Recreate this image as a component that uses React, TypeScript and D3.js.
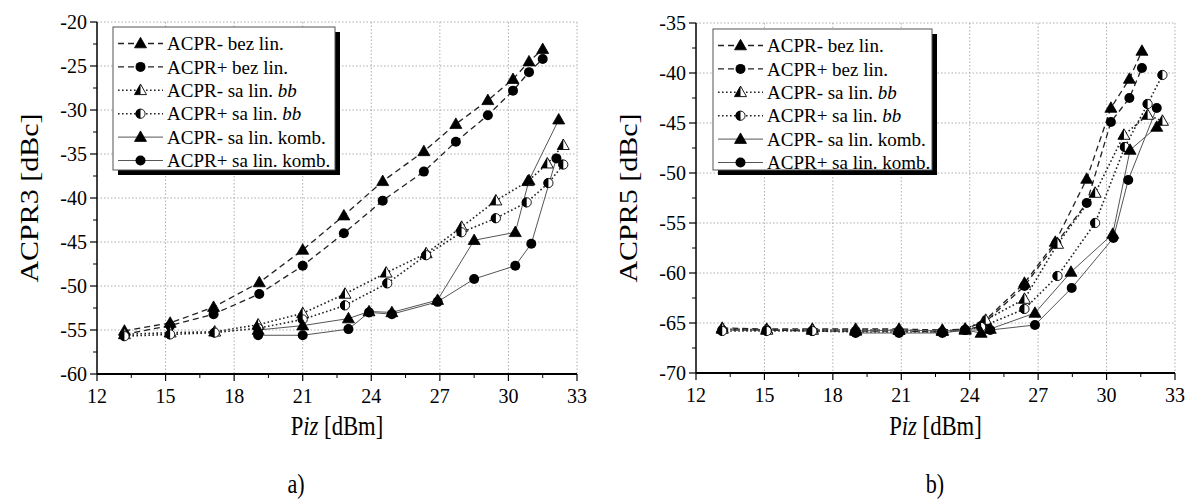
import React from "react";
import * as d3 from "d3";

type Pt = [number, number];

// ---------- Data: plot a) ACPR3 ----------
const a3MinusBez: Pt[] = [[13.2,-55.1],[15.2,-54.2],[17.1,-52.4],[19.1,-49.6],[21.0,-45.9],[22.8,-42.0],[24.5,-38.1],[26.3,-34.7],[27.7,-31.6],[29.1,-28.9],[30.2,-26.5],[30.9,-24.5],[31.5,-23.1]];
const a3PlusBez: Pt[] = [[13.2,-55.5],[15.2,-54.5],[17.1,-53.2],[19.1,-50.9],[21.0,-47.7],[22.8,-44.0],[24.5,-40.3],[26.3,-37.0],[27.7,-33.6],[29.1,-30.6],[30.2,-27.8],[30.9,-25.7],[31.5,-24.2]];
const a3MinusBb: Pt[] = [[13.2,-55.5],[15.2,-55.3],[17.15,-55.2],[19.05,-54.4],[21.0,-53.1],[22.85,-50.9],[24.65,-48.5],[26.4,-46.3],[27.95,-43.3],[29.45,-40.3],[30.85,-38.1],[31.7,-36.1],[32.4,-34.0]];
const a3PlusBb: Pt[] = [[13.2,-55.7],[15.2,-55.5],[17.15,-55.3],[19.05,-54.8],[21.0,-53.8],[22.85,-52.2],[24.7,-49.7],[26.4,-46.5],[27.95,-43.9],[29.45,-42.3],[30.8,-40.5],[31.75,-38.3],[32.4,-36.2]];
const a3MinusKomb: Pt[] = [[19.05,-55.0],[21.0,-54.5],[23.0,-53.7],[23.9,-52.9],[24.9,-53.0],[26.9,-51.6],[28.5,-44.8],[30.3,-43.9],[30.9,-38.0],[32.2,-31.1]];
const a3PlusKomb: Pt[] = [[19.05,-55.6],[21.0,-55.6],[23.0,-54.9],[23.9,-53.0],[24.9,-53.2],[26.9,-51.8],[28.5,-49.2],[30.3,-47.7],[31.0,-45.2],[32.1,-35.5]];

// ---------- Data: plot b) ACPR5 ----------
const a5MinusBez: Pt[] = [[13.15,-65.5],[15.1,-65.6],[17.1,-65.6],[19.0,-65.6],[20.9,-65.6],[22.8,-65.7],[23.8,-65.6],[24.6,-64.9],[26.4,-61.0],[27.75,-56.9],[29.13,-50.6],[30.19,-43.5],[31.0,-40.6],[31.55,-37.8]];
const a5PlusBez: Pt[] = [[13.15,-65.7],[15.1,-65.7],[17.1,-65.8],[19.0,-65.8],[20.9,-65.8],[22.8,-65.9],[23.8,-65.7],[24.5,-65.3],[26.4,-61.3],[27.8,-57.0],[29.13,-53.0],[30.19,-44.9],[31.0,-42.5],[31.55,-39.5]];
const a5MinusBb: Pt[] = [[13.15,-65.6],[15.1,-65.7],[17.1,-65.7],[19.0,-65.7],[20.9,-65.7],[22.8,-65.8],[23.8,-65.6],[24.7,-64.7],[26.4,-62.6],[27.85,-57.1],[29.5,-52.0],[30.76,-46.2],[31.8,-44.2],[32.45,-44.8]];
const a5PlusBb: Pt[] = [[13.15,-65.8],[15.1,-65.8],[17.1,-65.8],[19.0,-65.9],[20.9,-65.9],[22.8,-65.9],[23.8,-65.7],[24.5,-65.4],[26.4,-63.6],[27.85,-60.3],[29.5,-55.0],[30.8,-47.4],[31.8,-43.1],[32.45,-40.2]];
const a5MinusKomb: Pt[] = [[19.0,-65.8],[20.9,-65.7],[22.8,-65.8],[23.8,-65.7],[24.5,-66.0],[24.9,-65.6],[26.86,-64.0],[28.44,-59.9],[30.27,-56.1],[31.03,-47.7],[32.2,-45.4]];
const a5PlusKomb: Pt[] = [[19.0,-66.0],[20.9,-66.0],[22.8,-66.0],[23.8,-65.7],[24.9,-65.7],[26.86,-65.2],[28.47,-61.5],[30.3,-56.5],[30.95,-50.7],[32.2,-43.5]];

const xTicks = [12, 15, 18, 21, 24, 27, 30, 33];
const yTicksA = [-60, -55, -50, -45, -40, -35, -30, -25, -20];
const yTicksB = [-70, -65, -60, -55, -50, -45, -40, -35];

const legendLabels: [string, string][] = [
  ["ACPR- bez lin.", ""],
  ["ACPR+ bez lin.", ""],
  ["ACPR- sa lin. ", "bb"],
  ["ACPR+ sa lin. ", "bb"],
  ["ACPR- sa lin. komb.", ""],
  ["ACPR+ sa lin. komb.", ""],
];

type Style = { line: "dash" | "dot" | "solid"; marker: "tri" | "circ" | "halfTri" | "halfCirc" };
const styles: Style[] = [
  { line: "dash", marker: "tri" },
  { line: "dash", marker: "circ" },
  { line: "dot", marker: "halfTri" },
  { line: "dot", marker: "halfCirc" },
  { line: "solid", marker: "tri" },
  { line: "solid", marker: "circ" },
];

const FONT = "Liberation Serif, Times New Roman, DejaVu Serif, serif";

function lineProps(kind: Style["line"]) {
  if (kind === "dash") return { stroke: "#222", strokeWidth: 1.3, strokeDasharray: "6,4" };
  if (kind === "dot") return { stroke: "#222", strokeWidth: 1.6, strokeDasharray: "1.6,2.4" };
  return { stroke: "#555", strokeWidth: 1 };
}

function Marker({ kind, x, y }: { kind: Style["marker"]; x: number; y: number }) {
  const tri = `M0,-6.2L6,4.3L-6,4.3Z`;
  const halfTri = `M0,-6.2L0,4.3L-6,4.3Z`;
  const r = 5;
  const halfC = `M0,${-r}A${r},${r} 0 0,0 0,${r}Z`;
  return (
    <g transform={`translate(${x},${y})`}>
      {kind === "tri" && <path d={tri} fill="#000" stroke="#000" strokeWidth={0.8} />}
      {kind === "circ" && <circle r={r} fill="#000" />}
      {kind === "halfTri" && (
        <>
          <path d={tri} fill="#fff" stroke="#000" strokeWidth={0.9} />
          <path d={halfTri} fill="#000" />
        </>
      )}
      {kind === "halfCirc" && (
        <>
          <circle r={r - 0.4} fill="#fff" stroke="#000" strokeWidth={0.9} />
          <path d={halfC} fill="#000" />
        </>
      )}
    </g>
  );
}

type PanelProps = {
  x0: number; x1: number; yTop: number; yBot: number;
  yDomain: [number, number]; yTicks: number[];
  series: Pt[][]; yTitle: string; yTitleX: number;
  legendX: number; legendY: number; legendW: number; legendH: number;
  caption: string; captionX: number;
};

function Panel(p: PanelProps) {
  const x = d3.scaleLinear().domain([12, 33]).range([p.x0, p.x1]);
  const y = d3.scaleLinear().domain(p.yDomain).range([p.yBot, p.yTop]);
  const line = d3.line<Pt>().x((d) => x(d[0])).y((d) => y(d[1]));
  const minorX = d3.range(13.5, 33, 3);
  const minorY = p.yTicks.slice(0, -1).map((v) => v + 2.5);
  const cx = (p.x0 + p.x1) / 2;
  const rowH = 23.4;
  return (
    <g style={{ fontFamily: FONT }}>
      {/* grid */}
      {xTicks.slice(1).map((t) => (
        <line key={"gx" + t} x1={x(t)} x2={x(t)} y1={p.yTop} y2={p.yBot} stroke="#999" strokeWidth={0.8} strokeDasharray="1.5,2" />
      ))}
      {p.yTicks.slice(1).map((t) => (
        <line key={"gy" + t} x1={p.x0} x2={p.x1} y1={y(t)} y2={y(t)} stroke="#999" strokeWidth={0.8} strokeDasharray="1.5,2" />
      ))}
      {/* series */}
      {p.series.map((s, i) => (
        <path key={"l" + i} d={line(s) || ""} fill="none" {...lineProps(styles[i].line)} />
      ))}
      {p.series.map((s, i) =>
        s.map((d, j) => <Marker key={`m${i}-${j}`} kind={styles[i].marker} x={x(d[0])} y={y(d[1])} />)
      )}
      {/* axes */}
      <line x1={p.x0} x2={p.x0} y1={p.yTop} y2={p.yBot} stroke="#000" strokeWidth={1.5} />
      <line x1={p.x0} x2={p.x1} y1={p.yBot} y2={p.yBot} stroke="#000" strokeWidth={2.2} />
      {p.yTicks.map((t) => (
        <g key={"yt" + t}>
          <line x1={p.x0 - 7} x2={p.x0} y1={y(t)} y2={y(t)} stroke="#000" strokeWidth={1.2} />
          <text x={p.x0 - 10} y={y(t)} dy="0.35em" textAnchor="end" fontSize={20}>{t}</text>
        </g>
      ))}
      {minorY.map((t) => (
        <line key={"ym" + t} x1={p.x0 - 4} x2={p.x0} y1={y(t)} y2={y(t)} stroke="#000" strokeWidth={1} />
      ))}
      {xTicks.map((t) => (
        <g key={"xt" + t}>
          <line x1={x(t)} x2={x(t)} y1={p.yBot} y2={p.yBot + 7} stroke="#000" strokeWidth={1.2} />
          <text x={x(t)} y={p.yBot + 29} textAnchor="middle" fontSize={20}>{t}</text>
        </g>
      ))}
      {minorX.map((t) => (
        <line key={"xm" + t} x1={x(t)} x2={x(t)} y1={p.yBot} y2={p.yBot + 4} stroke="#000" strokeWidth={1} />
      ))}
      {/* titles */}
      <text transform={`translate(${p.yTitleX},198) scale(0.82,1) rotate(-90)`} textAnchor="middle" fontSize={30}>{p.yTitle}</text>
      <text transform={`translate(${cx},435) scale(0.84,1)`} textAnchor="middle" fontSize={27}>
        P<tspan fontStyle="italic">iz</tspan> [dBm]
      </text>
      <text transform={`translate(${p.captionX},493) scale(0.82,1)`} textAnchor="middle" fontSize={27}>{p.caption}</text>
      {/* legend */}
      <rect x={p.legendX + 5} y={p.legendY + 5} width={p.legendW} height={p.legendH} fill="#000" />
      <rect x={p.legendX} y={p.legendY} width={p.legendW} height={p.legendH} fill="#fff" stroke="#555" strokeWidth={1} />
      {legendLabels.map((lab, i) => {
        const ly = p.legendY + 16.5 + i * rowH;
        return (
          <g key={"lg" + i}>
            <line x1={p.legendX + 5} x2={p.legendX + 50} y1={ly} y2={ly} {...lineProps(styles[i].line)} />
            <Marker kind={styles[i].marker} x={p.legendX + 27.5} y={ly} />
            <text x={p.legendX + 54} y={ly} dy="0.35em" fontSize={19}>
              {lab[0]}
              {lab[1] && <tspan fontStyle="italic">{lab[1]}</tspan>}
            </text>
          </g>
        );
      })}
    </g>
  );
}

export default function App() {
  return (
    <svg width={1187} height={504} style={{ position: "absolute", left: 0, top: 0, background: "#fff" }}>
      <Panel
        x0={97} x1={577} yTop={22} yBot={374}
        yDomain={[-60, -20]} yTicks={yTicksA}
        series={[a3MinusBez, a3PlusBez, a3MinusBb, a3PlusBb, a3MinusKomb, a3PlusKomb]}
        yTitle="ACPR3 [dBc]" yTitleX={38}
        legendX={113} legendY={27} legendW={222} legendH={143}
        caption="a)" captionX={296}
      />
      <Panel
        x0={696} x1={1175} yTop={23} yBot={373}
        yDomain={[-70, -35]} yTicks={yTicksB}
        series={[a5MinusBez, a5PlusBez, a5MinusBb, a5PlusBb, a5MinusKomb, a5PlusKomb]}
        yTitle="ACPR5 [dBc]" yTitleX={637}
        legendX={713} legendY={29} legendW={219} legendH={141}
        caption="b)" captionX={935}
      />
    </svg>
  );
}
